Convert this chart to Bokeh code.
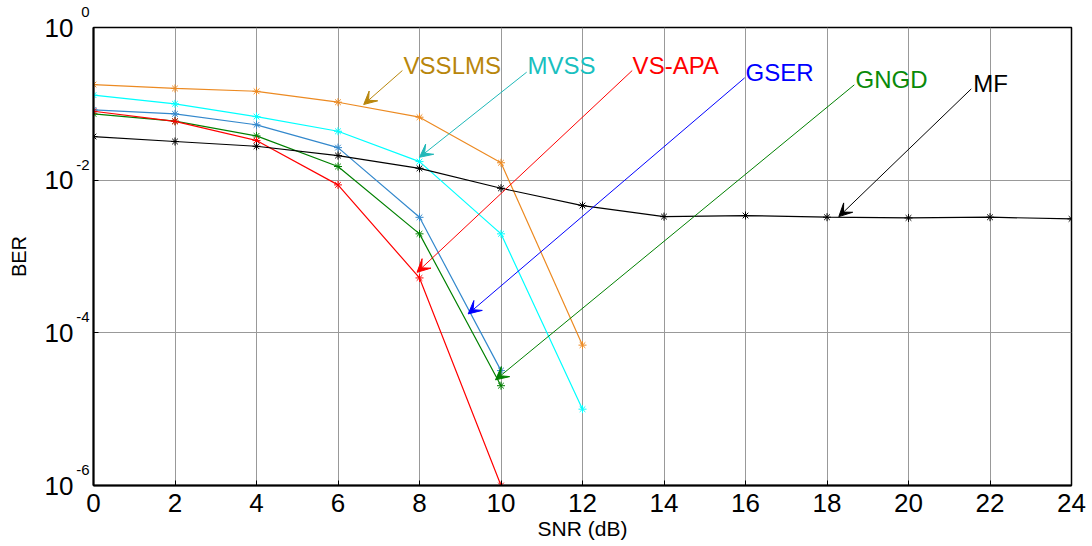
from bokeh.plotting import figure
from bokeh.models import (FixedTicker, CustomJSTickFormatter, Arrow, VeeHead,
                          ColumnDataSource, Range1d, LogAxis)
from bokeh.core.properties import value
from bokeh.embed import file_html
from bokeh.resources import INLINE

# ---------------- data ----------------
snr = [0, 2, 4, 6, 8, 10, 12, 14, 16, 18, 20, 22, 24]
x_ticks = [0, 2, 4, 6, 8, 10, 12, 14, 16, 18, 20, 22, 24]
y_ticks = [1e-6, 1e-4, 1e-2, 1]

ber_vsslms = [0.179, 0.159, 0.146, 0.105, 0.0668, 0.0169, 6.9e-5]
ber_mvss = [0.130, 0.100, 0.068, 0.0437, 0.0175, 0.00198, 1.0e-5]
ber_gser = [0.0834, 0.0739, 0.0531, 0.0267, 0.00326, 3.2e-5]
ber_gngd = [0.0739, 0.0592, 0.038, 0.0151, 0.00198, 2.03e-5]
ber_vsapa = [0.080, 0.059, 0.033, 0.00867, 5.24e-4, 1.0e-6]
ber_mf = [0.0373, 0.0321, 0.0278, 0.021, 0.0143, 0.00783, 0.00465,
          0.00333, 0.00344, 0.00327, 0.0032, 0.00327, 0.00311]

series_names = ["VSSLMS", "MVSS", "GSER", "GNGD", "VS-APA", "MF"]
series_values = [ber_vsslms, ber_mvss, ber_gser, ber_gngd, ber_vsapa, ber_mf]
series_colors = ["#EC8A22", "#00FFFF", "#3388CC", "#008000", "#FF0000", "#000000"]

# annotations: label text, text anchor, arrow tail, arrow head (data coords)
ann_labels = ["VSSLMS", "MVSS", "VS-APA", "GSER", "GNGD", "MF"]
ann_text_x = [7.61, 10.65, 13.23, 16.0, 18.7, 21.59]
ann_text_y = [0.318, 0.318, 0.318, 0.2596, 0.2064, 0.183]
ann_tail_x = [7.58, 10.63, 13.22, 15.98, 18.67, 21.54]
ann_tail_y = [0.273, 0.260, 0.273, 0.219, 0.1774, 0.157]
ann_head_x = [6.63, 8.0, 7.94, 9.195, 9.865, 18.29]
ann_head_y = [0.098, 0.01995, 6.21e-4, 1.77e-4, 2.42e-5, 3.33e-3]
ann_text_colors = ["#B8860B", "#19BFBF", "#FF0000", "#0000FF", "#0A8A0A", "#000000"]
ann_arrow_colors = ["#B8860B", "#1FB8B8", "#FF0000", "#0000FF", "#008000", "#000000"]

FONT = "Liberation Sans"

p = figure(width=1092, height=546, y_axis_type="log",
           x_range=Range1d(0, 24), y_range=Range1d(1e-6, 1),
           output_backend="svg", toolbar_location=None,
           min_border_left=93, min_border_right=21,
           min_border_top=27, min_border_bottom=61)
p.background_fill_color = "white"
p.border_fill_color = "white"
p.outline_line_color = "black"
p.outline_line_width = 1.5

p.xaxis.ticker = FixedTicker(ticks=x_ticks, minor_ticks=[])
p.yaxis.ticker = FixedTicker(ticks=y_ticks, minor_ticks=[])

for ax in (p.xaxis[0], p.yaxis[0]):
    ax.axis_line_width = 2
    ax.axis_line_color = "black"
    ax.major_tick_in = 5
    ax.major_tick_out = 0
    ax.minor_tick_in = 0
    ax.minor_tick_out = 0
    ax.major_label_text_font = FONT
    ax.major_label_text_font_size = "26px"
    ax.major_label_text_color = "black"
    ax.axis_label_text_font = FONT
    ax.axis_label_text_font_size = "21px"
    ax.axis_label_text_font_style = "normal"
    ax.axis_label_text_color = "black"

p.xaxis.axis_label = "SNR (dB)"
p.xaxis.major_label_standoff = 8
p.xaxis.axis_label_standoff = 2

# inner left axis: the exponent of each 10^n label, raised above the tick
p.yaxis.formatter = CustomJSTickFormatter(
    code="return String(Math.round(Math.log10(tick))) + '\\n ';")
p.yaxis.major_label_text_font_size = "15px"
p.yaxis.major_label_text_line_height = 1.9
p.yaxis.major_label_standoff = 4

# outer left axis: the base "10" of each label, plus the axis title
base_axis = LogAxis(ticker=FixedTicker(ticks=y_ticks, minor_ticks=[]),
                    formatter=CustomJSTickFormatter(code="return '10';"),
                    axis_line_color=None, major_tick_line_color=None,
                    minor_tick_line_color=None,
                    major_label_text_font=FONT, major_label_text_font_size="26px",
                    major_label_text_color="black", major_label_standoff=-6,
                    axis_label="BER", axis_label_text_font=FONT,
                    axis_label_text_font_size="20px",
                    axis_label_text_font_style="normal",
                    axis_label_text_color="black", axis_label_standoff=12)
p.add_layout(base_axis, "left")

p.xgrid.grid_line_color = "#999999"
p.ygrid.grid_line_color = "#999999"
p.xgrid.grid_line_width = 1
p.ygrid.grid_line_width = 1

for name, vals, col in zip(series_names, series_values, series_colors):
    xs = snr[:len(vals)]
    p.line(xs, vals, line_color=col, line_width=1.2)
    p.scatter(xs, vals, marker="asterisk", size=8, line_color=col, line_width=1)

for i in range(len(ann_labels)):
    p.add_layout(Arrow(x_start=ann_tail_x[i], y_start=ann_tail_y[i],
                       x_end=ann_head_x[i], y_end=ann_head_y[i],
                       line_color=ann_arrow_colors[i], line_width=1,
                       end=VeeHead(size=13, line_color=ann_arrow_colors[i],
                                   fill_color=ann_arrow_colors[i], line_width=1)))

src = ColumnDataSource(dict(x=ann_text_x, y=ann_text_y, t=ann_labels, c=ann_text_colors))
p.text(x="x", y="y", text="t", text_color="c", source=src,
       text_font=value(FONT), text_font_size="24px",
       text_align="left", text_baseline="alphabetic")

open("out.html", "w").write(file_html(p, INLINE))
